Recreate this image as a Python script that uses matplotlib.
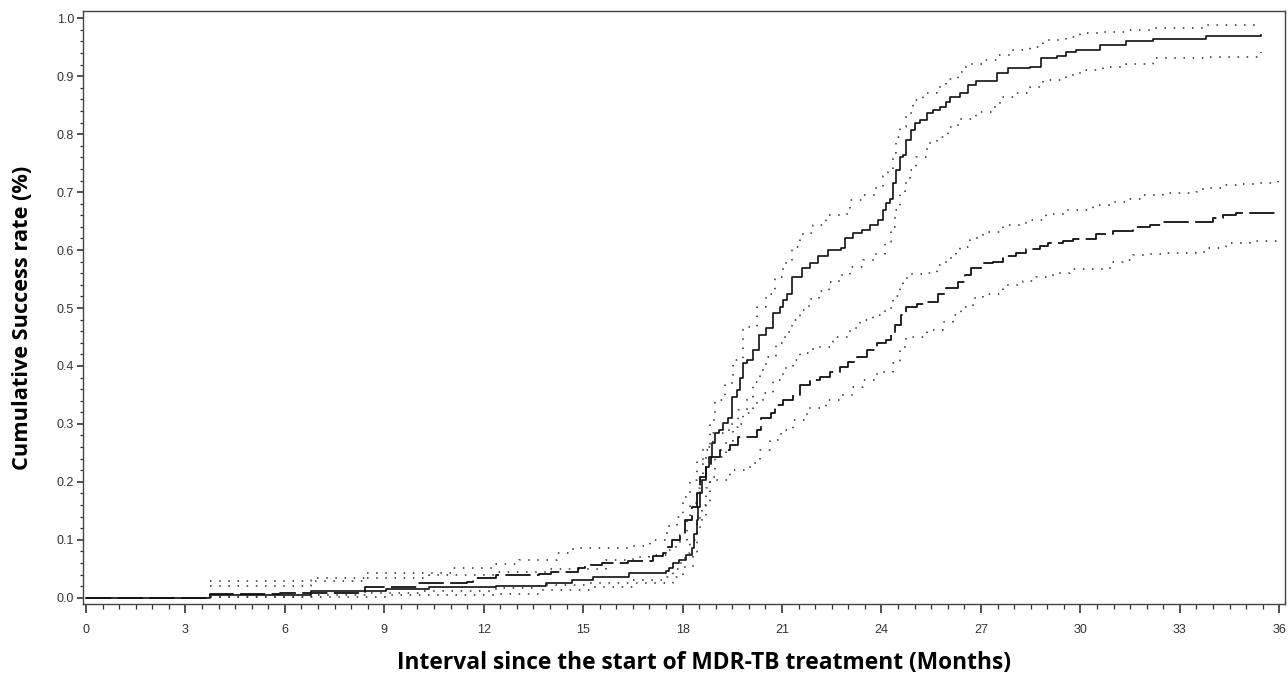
import matplotlib
matplotlib.use("Agg")
import matplotlib.pyplot as plt
from matplotlib.ticker import MultipleLocator, FormatStrFormatter

# ---- Data (months, cumulative success) ----
a_t = [0, 3.74, 6.79, 9.05, 10.35, 12.37, 13.87, 14.67, 15.29, 16.39, 17.5, 17.6, 17.7, 17.9, 18.1,
       18.27, 18.35, 18.42, 18.47, 18.52, 18.6, 18.7, 18.8, 18.9, 18.97, 19.11, 19.23, 19.38, 19.48,
       19.63, 19.73, 19.83, 19.93, 20.13, 20.31, 20.53, 20.73, 20.93, 21.04, 21.14, 21.29, 21.59,
       21.84, 22.09, 22.39, 22.79, 22.89, 23.15, 23.40, 23.65, 23.90, 24.05, 24.15, 24.25, 24.35,
       24.45, 24.55, 24.65, 24.75, 24.90, 25.00, 25.16, 25.36, 25.56, 25.76, 25.96, 26.06, 26.36,
       26.61, 26.86, 27.47, 27.82, 28.47, 28.82, 29.28, 29.58, 29.88, 30.58, 31.39, 32.19, 33.80,
       35.46]
a_v = [0.0, 0.004, 0.011, 0.015, 0.019, 0.021, 0.026, 0.030, 0.035, 0.043, 0.046, 0.051, 0.060,
       0.065, 0.074, 0.086, 0.110, 0.134, 0.157, 0.180, 0.203, 0.226, 0.243, 0.267, 0.284, 0.289,
       0.301, 0.310, 0.347, 0.358, 0.379, 0.405, 0.410, 0.4275, 0.453, 0.465, 0.491, 0.502, 0.514,
       0.525, 0.554, 0.5685, 0.577, 0.589, 0.600, 0.603, 0.620, 0.629, 0.635, 0.643, 0.652, 0.669,
       0.681, 0.689, 0.715, 0.738, 0.761, 0.764, 0.790, 0.807, 0.819, 0.824, 0.836, 0.842, 0.847,
       0.856, 0.865, 0.871, 0.885, 0.891, 0.905, 0.914, 0.916, 0.931, 0.935, 0.942, 0.946, 0.954,
       0.960, 0.964, 0.969, 0.972]

a_hi_t = [3.74, 6.79, 8.47, 10.35, 12.37, 13.87, 15.7, 16.5, 17.0, 17.52, 17.72, 17.92, 18.12,
          18.22, 18.42, 18.52, 18.62, 18.72, 18.82, 18.97, 19.28, 19.53, 19.83, 20.23, 20.53, 20.78,
          21.03, 21.29, 21.54, 21.64, 21.94, 22.34, 22.74, 23.05, 23.45, 23.80, 24.05, 24.2, 24.35,
          24.45, 24.55, 24.75, 24.95, 25.26, 25.66, 25.96, 26.31, 26.56, 27.07, 27.47, 27.87, 28.47,
          28.87, 29.58, 29.98, 30.68, 31.39, 32.19, 33.80, 35.46]
a_hi_v = [0.020, 0.029, 0.034, 0.040, 0.045, 0.050, 0.065, 0.071, 0.074, 0.082, 0.088, 0.0996,
          0.134, 0.163, 0.190, 0.209, 0.232, 0.255, 0.307, 0.341, 0.370, 0.410, 0.468, 0.502, 0.525,
          0.554, 0.577, 0.606, 0.620, 0.629, 0.643, 0.660, 0.663, 0.686, 0.695, 0.707, 0.727, 0.735,
          0.767, 0.796, 0.813, 0.836, 0.859, 0.871, 0.882, 0.896, 0.908, 0.922, 0.928, 0.937, 0.945,
          0.951, 0.963, 0.968, 0.974, 0.977, 0.980, 0.984, 0.988, 0.990]

a_lo_t = [3.74, 6.79, 9.05, 12.37, 13.67, 15.19, 16.49, 17.7, 18.0, 18.3, 18.42, 18.52, 18.72,
          18.82, 18.97, 19.31, 19.53, 19.68, 19.93, 20.13, 20.33, 20.53, 20.83, 21.08, 21.29, 21.54,
          21.82, 22.12, 22.42, 22.72, 23.05, 23.45, 23.80, 24.1, 24.3, 24.4, 24.55, 24.7, 24.85,
          25.05, 25.36, 25.66, 26.01, 26.31, 26.86, 27.37, 27.57, 28.07, 28.47, 28.87, 29.58, 29.98,
          30.68, 31.39, 32.19, 33.80, 35.46]
a_lo_v = [0.0005, 0.002, 0.004, 0.006, 0.013, 0.019, 0.025, 0.036, 0.053, 0.077, 0.111, 0.140,
          0.190, 0.209, 0.243, 0.270, 0.295, 0.324, 0.347, 0.373, 0.393, 0.416, 0.439, 0.459, 0.479,
          0.497, 0.515, 0.530, 0.545, 0.557, 0.571, 0.583, 0.594, 0.614, 0.640, 0.669, 0.698, 0.715,
          0.738, 0.761, 0.784, 0.796, 0.813, 0.827, 0.839, 0.847, 0.865, 0.871, 0.882, 0.894, 0.902,
          0.911, 0.916, 0.922, 0.931, 0.934, 0.942]

b_t = [0, 3.74, 5.85, 8.42, 10.02, 11.49, 11.67, 12.37, 13.67, 14.04, 14.85, 15.05, 15.56, 16.36,
       17.1, 17.4, 17.57, 17.67, 17.92, 18.07, 18.27, 18.42, 18.52, 18.72, 18.87, 19.13, 19.43,
       19.68, 20.23, 20.38, 20.68, 20.78, 21.03, 21.34, 21.54, 21.84, 22.14, 22.44, 22.74, 22.99,
       23.25, 23.55, 23.85, 24.15, 24.3, 24.4, 24.6, 24.75, 25.06, 25.36, 25.71, 25.96, 26.31,
       26.51, 26.71, 27.01, 27.37, 27.67, 28.07, 28.37, 28.77, 29.03, 29.48, 29.78, 30.48, 30.99,
       31.59, 32.09, 32.49, 34.0, 34.3, 34.7, 35.96]
b_v = [0.0, 0.006, 0.008, 0.019, 0.025, 0.0276, 0.0335, 0.039, 0.041, 0.045, 0.051, 0.056, 0.060,
       0.064, 0.072, 0.077, 0.088, 0.0996, 0.108, 0.134, 0.157, 0.180, 0.209, 0.229, 0.243, 0.255,
       0.264, 0.278, 0.289, 0.310, 0.318, 0.333, 0.341, 0.350, 0.367, 0.376, 0.381, 0.390, 0.399,
       0.407, 0.416, 0.4275, 0.439, 0.445, 0.456, 0.471, 0.488, 0.502, 0.507, 0.511, 0.525, 0.534,
       0.545, 0.557, 0.5685, 0.577, 0.580, 0.590, 0.595, 0.601, 0.607, 0.613, 0.616, 0.619, 0.628,
       0.633, 0.640, 0.643, 0.648, 0.655, 0.660, 0.664, 0.666]

b_hi_t = [3.74, 6.79, 8.47, 11.06, 12.37, 13.07, 14.2, 14.7, 16.41, 17.01, 17.52, 17.82, 18.02,
          18.22, 18.42, 18.62, 18.92, 19.41, 19.81, 20.13, 20.43, 20.73, 21.03, 21.34, 21.54, 21.94,
          22.54, 23.05, 23.35, 23.75, 24.1, 24.35, 24.55, 24.65, 24.8, 25.36, 25.66, 25.96, 26.26,
          26.36, 26.66, 27.07, 27.67, 28.37, 28.97, 29.58, 30.38, 30.88, 31.39, 31.89, 32.49, 33.5,
          33.7, 34.4, 34.7, 35.41, 35.96]
b_hi_v = [0.029, 0.0345, 0.042, 0.052, 0.059, 0.065, 0.077, 0.085, 0.089, 0.0996, 0.123, 0.140,
          0.174, 0.203, 0.238, 0.260, 0.285, 0.300, 0.318, 0.3355, 0.353, 0.376, 0.396, 0.410, 0.422,
          0.433, 0.450, 0.465, 0.479, 0.488, 0.4995, 0.520, 0.537, 0.551, 0.559, 0.561, 0.574, 0.586,
          0.600, 0.606, 0.620, 0.632, 0.643, 0.652, 0.663, 0.669, 0.678, 0.683, 0.689, 0.695, 0.699,
          0.701, 0.707, 0.712, 0.714, 0.715, 0.720]

b_lo_t = [3.74, 6.79, 8.45, 10.05, 12.37, 13.67, 15.08, 16.49, 17.52, 17.72, 17.92, 18.07, 18.22,
          18.42, 18.6, 18.82, 19.43, 20.03, 20.33, 20.63, 20.98, 21.34, 21.74, 22.34, 22.74, 23.15,
          23.45, 23.85, 24.35, 24.55, 24.75, 25.36, 25.86, 26.16, 26.41, 26.76, 27.07, 27.67, 28.27,
          28.67, 29.17, 29.68, 30.88, 31.29, 31.59, 32.09, 32.59, 33.5, 33.8, 34.4, 35.11, 35.96]
b_lo_v = [0.001, 0.004, 0.008, 0.011, 0.016, 0.022, 0.026, 0.030, 0.035, 0.050, 0.060, 0.077,
          0.100, 0.130, 0.160, 0.203, 0.220, 0.232, 0.255, 0.272, 0.289, 0.307, 0.327, 0.341, 0.350,
          0.364, 0.376, 0.390, 0.405, 0.433, 0.450, 0.462, 0.476, 0.488, 0.502, 0.517, 0.525, 0.540,
          0.547, 0.554, 0.560, 0.567, 0.580, 0.583, 0.591, 0.593, 0.595, 0.597, 0.603, 0.612, 0.616,
          0.619]

x_label = "Interval since the start of MDR-TB treatment (Months)"
y_label = "Cumulative Success rate (%)"

# ---- Figure ----
fig = plt.figure(figsize=(12.88, 6.76), dpi=100)
ax = fig.add_axes([0.0644, 0.1065, 0.9332, 0.8772])

dot_style = dict(color="#2a2a2a", lw=1.1, linestyle=(0, (1, 5)), where="post")
ax.step(a_hi_t, a_hi_v, **dot_style)
ax.step(a_lo_t, a_lo_v, **dot_style)
ax.step(b_hi_t, b_hi_v, **dot_style)
ax.step(b_lo_t, b_lo_v, **dot_style)
ax.step(b_t, b_v, where="post", color="#111111", lw=1.3, linestyle=(0, (14, 3.5)))
ax.step(a_t, a_v, where="post", color="#111111", lw=1.2)

ax.set_xlim(-0.09, 36.17)
ax.set_ylim(-0.0109, 1.0126)

ax.xaxis.set_major_locator(MultipleLocator(3))
ax.xaxis.set_minor_locator(MultipleLocator(0.5))
ax.yaxis.set_major_locator(MultipleLocator(0.1))
ax.yaxis.set_minor_locator(MultipleLocator(0.02))
ax.yaxis.set_major_formatter(FormatStrFormatter("%.1f"))

for s in ax.spines.values():
    s.set_color("#444444")
    s.set_linewidth(1.0)

ax.tick_params(axis="x", which="major", length=6.5, width=1.2, color="#333333",
               labelsize=9, labelcolor="#333333", pad=8)
ax.tick_params(axis="x", which="minor", length=3.6, width=0.9, color="#333333")
ax.tick_params(axis="y", which="major", length=4.3, width=1.2, color="#333333",
               labelsize=9, labelcolor="#333333", pad=2)
ax.tick_params(axis="y", which="minor", length=2.2, width=0.9, color="#333333")
for lab in ax.get_xticklabels() + ax.get_yticklabels():
    lab.set_fontfamily("Liberation Sans")

ax.set_xlabel(x_label, fontsize=16.4, fontweight="bold", family="Open Sans", labelpad=11)
ax.set_ylabel(y_label, fontsize=15.7, fontweight="bold", family="Open Sans", labelpad=17)
ax.xaxis.label.set_x(0.5166)
ax.yaxis.label.set_y(0.483)

fig.savefig("out.png", dpi=100)
